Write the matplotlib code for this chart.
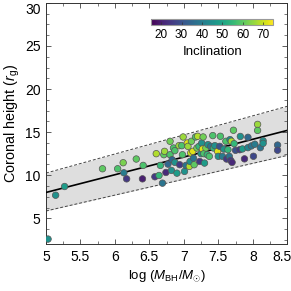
import matplotlib
matplotlib.use("Agg")
import matplotlib.pyplot as plt
import matplotlib.transforms as mtransforms
from matplotlib.ticker import MultipleLocator

plt.rcParams['font.family'] = ['Liberation Sans', 'DejaVu Sans']
plt.rcParams['mathtext.fontset'] = 'custom'
plt.rcParams['mathtext.rm'] = 'Liberation Sans'
plt.rcParams['mathtext.it'] = 'Liberation Sans:italic'

# data
log_mass = [5.03, 5.14, 5.27, 5.82, 6.04, 6.12, 6.13, 6.17, 6.31, 6.40,
            6.41, 6.58, 6.60, 6.64, 6.66, 6.69, 6.71, 6.72, 6.74, 6.77,
            6.80, 6.80, 6.82, 6.83, 6.85, 6.87, 6.87, 6.90, 6.93, 6.94,
            6.97, 6.98, 6.99, 7.01, 7.03, 7.05, 7.06, 7.08, 7.09, 7.10,
            7.11, 7.13, 7.14, 7.15, 7.17, 7.19, 7.20, 7.22, 7.23, 7.25,
            7.26, 7.27, 7.28, 7.29, 7.30, 7.32, 7.34, 7.35, 7.37, 7.39,
            7.42, 7.43, 7.45, 7.49, 7.50, 7.52, 7.53, 7.56, 7.58, 7.61,
            7.62, 7.64, 7.66, 7.67, 7.68, 7.69, 7.70, 7.72, 7.73, 7.75,
            7.81, 7.82, 7.85, 7.88, 7.93, 7.93, 7.98, 8.01, 8.03, 8.07,
            8.07, 8.11, 8.15, 8.15, 8.36, 8.36]
height = [2.59, 7.68, 8.69, 10.75, 10.75, 11.45, 10.28, 9.58, 11.88, 9.58,
          11.14, 9.82, 12.50, 9.97, 11.14, 9.08, 12.38, 12.77, 10.32, 11.29,
          12.38, 13.94, 10.56, 11.80, 13.16, 11.49, 12.85, 10.24, 13.43, 11.22,
          13.43, 12.38, 14.44, 10.44, 11.14, 13.74, 13.35, 11.02, 11.60, 12.58,
          13.94, 12.77, 11.98, 11.22, 14.44, 13.16, 14.52, 13.35, 11.60, 12.50,
          13.74, 13.04, 14.44, 12.50, 11.41, 13.16, 12.38, 13.55, 12.19, 13.35,
          14.60, 13.16, 13.43, 12.77, 12.19, 13.35, 14.52, 12.19, 13.04, 13.94,
          11.88, 12.96, 12.19, 14.13, 11.72, 13.94, 11.49, 15.22, 13.66, 12.89,
          12.96, 14.50, 13.05, 11.90, 14.40, 13.20, 13.40, 12.20, 13.60, 15.90,
          15.20, 13.20, 14.00, 13.70, 13.50, 12.90]
incl = [45, 45, 48, 60, 58, 63, 40, 25, 60, 20,
        58, 25, 68, 55, 55, 38, 60, 66, 22, 35,
        58, 62, 45, 35, 58, 45, 58, 48, 66, 25,
        58, 58, 66, 45, 38, 72, 66, 68, 45, 70,
        62, 72, 38, 60, 58, 62, 68, 55, 25, 48,
        45, 72, 62, 58, 48, 62, 55, 45, 58, 38,
        58, 55, 45, 72, 45, 30, 58, 40, 45, 58,
        25, 55, 38, 45, 25, 68, 22, 60, 55, 30,
        25, 45, 48, 22, 35, 42, 38, 28, 40, 66,
        60, 38, 45, 45, 35, 28]

fit_x = [5.0, 8.5]
fit_y = [8.0, 15.2]
band_hi = [10.25, 18.0]
band_lo = [5.85, 12.3]

fig = plt.figure(figsize=(2.91, 2.91), dpi=100)
ax = fig.add_axes([0.158, 0.161, 0.829, 0.829])

ax.fill_between(fit_x, band_lo, band_hi, color='#dedede', lw=0, zorder=1)
ax.plot(fit_x, band_hi, ls=(0, (3, 2)), color='#444444', lw=0.7, zorder=2)
ax.plot(fit_x, band_lo, ls=(0, (3, 2)), color='#444444', lw=0.7, zorder=2)
ax.plot(fit_x, fit_y, color='black', lw=1.2, zorder=3)
sc = ax.scatter(log_mass, height, c=incl, cmap='viridis', vmin=15, vmax=75,
                s=22, edgecolors='#555555', linewidths=0.5, zorder=4)

ax.set_xlim(5, 8.5)
ax.set_ylim(2, 30)
ax.xaxis.set_minor_locator(MultipleLocator(0.25))
ax.yaxis.set_major_locator(MultipleLocator(5))
ax.yaxis.set_minor_locator(MultipleLocator(1.25))
ax.set_xticks([5, 5.5, 6, 6.5, 7, 7.5, 8, 8.5])
ax.set_xticklabels(['5', '5.5', '6', '6.5', '7', '7.5', '8', '8.5'])
ax.set_yticks([5, 10, 15, 20, 25, 30])
ax.tick_params(which='both', direction='in', top=True, right=True,
               color='#444444', labelsize=10, pad=4)
ax.tick_params(which='major', length=3.5, width=0.6)
ax.tick_params(which='minor', length=2, width=0.5)
for sp in ax.spines.values():
    sp.set_linewidth(0.7)
    sp.set_color('#333333')

# keep the edge labels inside the picture, like the original
ax.get_yticklabels()[-1].set_verticalalignment('top')
shift = mtransforms.ScaledTranslation(-5 / 100, 0, fig.dpi_scale_trans)
lab = ax.get_xticklabels()[-1]
lab.set_transform(lab.get_transform() + shift)

ax.set_xlabel(r'log ($M_{\rm BH}/M_{\odot}$)', fontsize=9.5, labelpad=3)
ax.set_ylabel(r'Coronal height ($r_{\rm g}$)', fontsize=10.4, labelpad=2)

cax = fig.add_axes([0.519, 0.915, 0.42, 0.021])
cb = fig.colorbar(sc, cax=cax, orientation='horizontal')
cb.set_ticks([20, 30, 40, 50, 60, 70])
cb.ax.tick_params(labelsize=8.5, direction='in', length=2, width=0.5,
                  color='#333333', pad=3)
cb.outline.set_edgecolor('#999999')
cb.outline.set_linewidth(0.8)
cb.set_label('Inclination', fontsize=9.5, labelpad=4)

fig.savefig('out.png', dpi=100)
